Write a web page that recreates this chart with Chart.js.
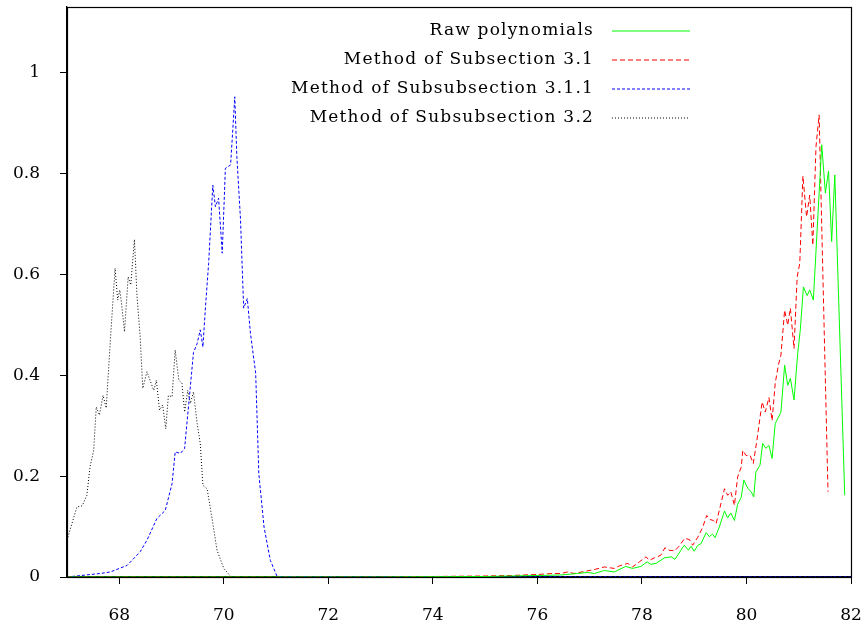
<!DOCTYPE html>
<html>
<head>
<meta charset="utf-8">
<script src="https://cdn.jsdelivr.net/npm/chart.js@4.4.1/dist/chart.umd.min.js"></script>
<style>body{margin:0;background:#fff}</style>
</head>
<body>
<canvas id="myChart" width="868" height="624"></canvas>
<script>
// tick labels
const xTicks=[68,70,72,74,76,78,80,82];
const yTicks=[0,0.2,0.4,0.6,0.8,1];

// Raw polynomials
const rawX=[67,73,74,75,75.5,76,76.45,76.77,76.96,77.09,77.28,77.47,77.69,77.82,77.98,78.10,78.17,78.27,78.43,78.56,78.63,78.81,78.89,78.94,79.0,79.07,79.13,79.23,79.29,79.35,79.40,79.48,79.58,79.64,79.70,79.77,79.83,79.90,79.95,80.03,80.09,80.14,80.18,80.26,80.31,80.37,80.43,80.49,80.55,80.66,80.73,80.79,80.84,80.91,80.98,81.03,81.09,81.16,81.21,81.28,81.44,81.51,81.57,81.63,81.69,81.88];
const rawY=[0,0,0.0005,0.001,0.002,0.003,0.004,0.007,0.009,0.007,0.013,0.010,0.021,0.017,0.021,0.030,0.025,0.027,0.038,0.040,0.035,0.063,0.053,0.061,0.051,0.063,0.066,0.088,0.080,0.085,0.078,0.099,0.131,0.117,0.127,0.112,0.144,0.158,0.192,0.175,0.169,0.159,0.208,0.222,0.265,0.255,0.261,0.235,0.304,0.327,0.420,0.380,0.394,0.351,0.443,0.49,0.575,0.558,0.569,0.549,0.857,0.761,0.805,0.665,0.797,0.162];

// Method of Subsection 3.1
const sub31X=[67,73,74,75,75.5,76,76.3,76.45,76.58,76.70,76.90,77.1,77.28,77.47,77.57,77.73,77.82,77.95,78.08,78.14,78.24,78.36,78.44,78.52,78.63,78.71,78.82,78.91,78.97,79.07,79.16,79.24,79.30,79.37,79.42,79.48,79.58,79.64,79.70,79.77,79.83,79.90,79.93,79.99,80.07,80.13,80.20,80.30,80.36,80.43,80.49,80.55,80.61,80.66,80.73,80.79,80.84,80.91,80.97,81.02,81.08,81.15,81.21,81.27,81.33,81.39,81.56];
const sub31Y=[0,0,0.001,0.002,0.003,0.005,0.007,0.007,0.010,0.007,0.011,0.015,0.020,0.017,0.022,0.027,0.020,0.030,0.040,0.033,0.038,0.043,0.058,0.053,0.052,0.061,0.077,0.074,0.063,0.079,0.098,0.122,0.114,0.112,0.106,0.132,0.175,0.162,0.169,0.142,0.198,0.218,0.251,0.241,0.241,0.225,0.271,0.347,0.327,0.356,0.31,0.384,0.42,0.44,0.529,0.499,0.533,0.453,0.595,0.622,0.795,0.714,0.757,0.658,0.853,0.916,0.169];

// Method of Subsubsection 3.1.1
const sub311X=[67,67.64,67.83,68.15,68.40,68.53,68.72,68.88,69.01,69.07,69.17,69.25,69.33,69.42,69.49,69.55,69.60,69.65,69.71,69.79,69.84,69.90,69.97,70.03,70.13,70.18,70.21,70.25,70.32,70.38,70.45,70.51,70.61,70.67,70.77,70.89,71.02,82];
const sub311Y=[0,0.007,0.010,0.023,0.050,0.073,0.116,0.132,0.185,0.248,0.245,0.255,0.344,0.445,0.463,0.49,0.456,0.536,0.622,0.777,0.734,0.751,0.642,0.81,0.817,0.9,0.952,0.833,0.708,0.533,0.552,0.483,0.404,0.205,0.099,0.033,0.001,0];

// Method of Subsubsection 3.2
const sub32X=[67,67.19,67.29,67.38,67.44,67.51,67.56,67.62,67.69,67.75,67.83,67.92,67.97,68.01,68.05,68.10,68.17,68.22,68.29,68.34,68.40,68.45,68.53,68.61,68.66,68.71,68.77,68.83,68.89,68.94,69.01,69.07,69.14,69.20,69.25,69.31,69.36,69.42,69.49,69.55,69.60,69.68,69.78,69.87,70.0,70.13,82];
const sub32Y=[0.073,0.139,0.141,0.162,0.218,0.251,0.337,0.321,0.36,0.335,0.47,0.612,0.549,0.569,0.536,0.486,0.595,0.579,0.669,0.556,0.476,0.374,0.407,0.384,0.370,0.39,0.331,0.341,0.294,0.36,0.357,0.45,0.39,0.384,0.327,0.37,0.344,0.367,0.304,0.265,0.182,0.175,0.113,0.053,0.017,0.001,0];

const pts=(xs,ys)=>xs.map((x,i)=>({x:x,y:ys[i]}));
const fnt={family:'"DejaVu Serif", serif',size:17};

// full box round the plot, drawn over the curves
const frameBox={
    id:'frameBox',
    afterDraw(chart){
        var a=chart.chartArea, c=chart.ctx;
        c.save();
        c.strokeStyle='#000';
        c.lineWidth=1.2;
        c.strokeRect(Math.round(a.left)+0.5,Math.round(a.top)+0.5,Math.round(a.right-a.left),Math.round(a.bottom-a.top));
        c.restore();
    }
};

// gnuplot style key: text right aligned, sample on the right
const keyBox={
    id:'keyBox',
    afterDraw(chart){
        var c=chart.ctx;
        c.save();
        c.font='17px "DejaVu Serif", serif';
        c.letterSpacing='1.2px';
        c.textAlign='right';
        c.textBaseline='middle';
        chart.data.datasets.forEach((ds,n)=>{
            var y=31+n*29;
            c.fillStyle='#000';
            c.fillText(ds.label,594,y);
            c.strokeStyle=ds.borderColor;
            c.lineWidth=1.2;
            c.setLineDash(ds.borderDash||[]);
            c.beginPath();
            c.moveTo(612,y);
            c.lineTo(690,y);
            c.stroke();
        });
        c.restore();
    }
};

var ctx=document.getElementById('myChart');
var lchart=new Chart(ctx,{
    type:'line',
    data:{
        datasets:[
            {label:'Raw polynomials',data:pts(rawX,rawY),borderColor:'#00ff00',borderWidth:1,borderDash:[]},
            {label:'Method of Subsection 3.1',data:pts(sub31X,sub31Y),borderColor:'#ff0000',borderWidth:1,borderDash:[5,3]},
            {label:'Method of Subsubsection 3.1.1',data:pts(sub311X,sub311Y),borderColor:'#0000ff',borderWidth:1,borderDash:[3,2]},
            {label:'Method of Subsubsection 3.2',data:pts(sub32X,sub32Y),borderColor:'#000000',borderWidth:1,borderDash:[1,2]}
        ]
    },
    options:{
        responsive:false,
        animation:false,
        elements:{point:{radius:0},line:{tension:0}},
        layout:{padding:{left:0,top:7,right:17,bottom:0}},
        plugins:{legend:{display:false},tooltip:{enabled:false}},
        scales:{
            x:{
                type:'linear',min:67,max:82,
                afterBuildTicks:s=>{s.ticks=xTicks.map(v=>({value:v}));},
                afterFit:s=>{s.height=47;s.paddingLeft=0;s.paddingRight=0;},
                grid:{drawOnChartArea:false,tickLength:7,color:'#000'},
                border:{color:'#000',width:1.3},
                ticks:{font:fnt,color:'#000',padding:21,maxRotation:0,callback:v=>String(v)}
            },
            y:{
                type:'linear',min:0,max:1.13,
                afterBuildTicks:s=>{s.ticks=yTicks.map(v=>({value:v}));},
                afterFit:s=>{s.width=67;s.paddingTop=0;s.paddingBottom=0;},
                grid:{drawOnChartArea:false,tickLength:7,color:'#000'},
                border:{color:'#000',width:1.3},
                ticks:{font:fnt,color:'#000',padding:20,callback:v=>String(v)}
            }
        }
    },
    plugins:[frameBox,keyBox]
});
</script>
</body>
</html>
